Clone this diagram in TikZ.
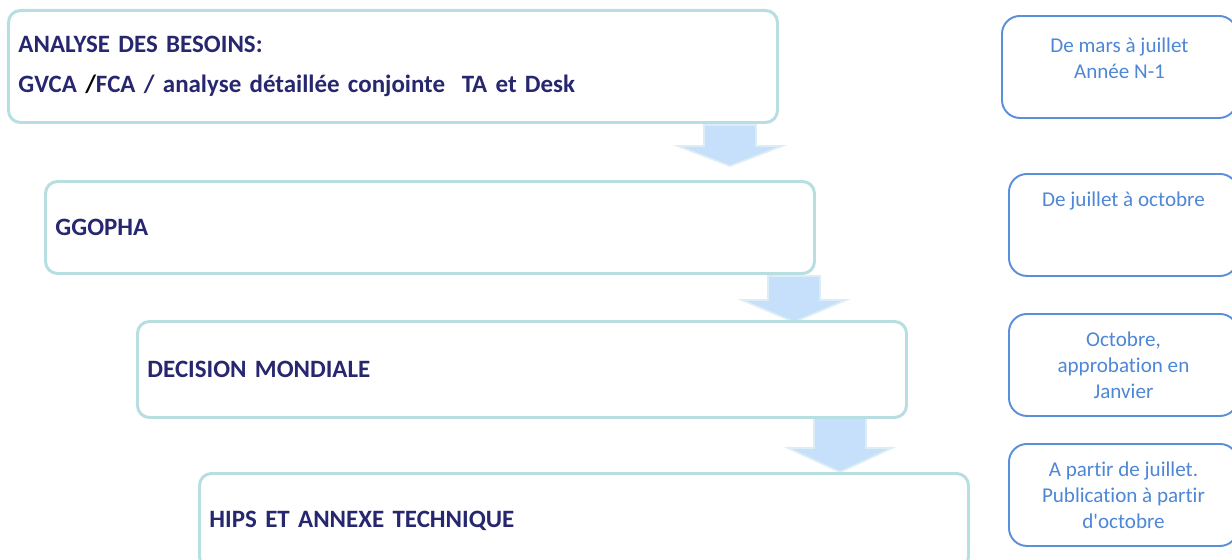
\documentclass[tikz,border=0pt]{standalone}
\usepackage{fontspec}
\setmainfont{Carlito}[Ligatures=NoCommon]
\usetikzlibrary{calc}
\definecolor{boxline}{HTML}{B7DEE0}
\definecolor{navytext}{HTML}{27276F}
\definecolor{dateline}{HTML}{5B8FD9}
\definecolor{datecol}{HTML}{4E87D6}
\definecolor{arrowfill}{HTML}{C6E0FB}
\definecolor{arrowline}{HTML}{DCEDF6}

\tikzset{
  stepbox/.style={draw=boxline, line width=1.7pt, rounded corners=0.24cm, fill=white,
    anchor=north west, text width=14.98cm, inner xsep=0.20cm, inner ysep=0pt, align=left,
    text=navytext, font=\fontsize{14.2}{17}\selectfont\bfseries},
  datebox/.style={draw=dateline, line width=1.1pt, rounded corners=0.36cm, fill=white,
    anchor=north west, minimum width=4.58cm, minimum height=2.04cm, inner sep=0pt, align=center,
    text=datecol, font=\fontsize{12}{14.7}\selectfont},
  downarrow/.style={fill=arrowfill, draw=arrowline, line width=1pt}
}
\newcommand{\blockarrow}[4]{%
  \filldraw[downarrow] (#1-0.52,#2) -- (#1+0.52,#2) -- (#1+0.52,#3) -- (#1+1.04,#3)
    -- (#1,#4) -- (#1-1.04,#3) -- (#1-0.52,#3) -- cycle;}

\begin{document}
\begin{tikzpicture}
    \useasboundingbox (0,0) rectangle (24.64,-11.2);

    \blockarrow{14.60}{-2.50}{-2.92}{-3.32}
    \blockarrow{15.88}{-5.52}{-6.00}{-6.44}
    \blockarrow{16.80}{-8.36}{-8.96}{-9.44}

    \node[stepbox, minimum height=2.24cm] (analyse) at (0.14,-0.18)
    {ANALYSE DES BESOINS:\\[5.7pt]GVCA {\color{black}/}FCA / analyse détaillée conjointe\ \ TA et Desk};
    \node[stepbox, minimum height=1.84cm] (ggopha) at (0.88,-3.60) {GGOPHA};
    \node[stepbox, minimum height=1.92cm] (decision) at (2.72,-6.40) {DECISION MONDIALE};
    \node[stepbox, minimum height=1.90cm] (hips) at (3.96,-9.44) {HIPS ET ANNEXE TECHNIQUE};

    \node[datebox, minimum width=4.70cm] (mars) at (20.02,-0.30)
    {De mars à juillet\\Année N-1\\[-4.5pt]\mbox{}};
    \node[datebox] (juillet) at (20.16,-3.46) {De juillet à octobre\\\mbox{}\\\mbox{}};
    \node[datebox] (octobre) at (20.16,-6.26) {Octobre,\\approbation en\\Janvier};
    \node[datebox] (publication) at (20.16,-8.86)
    {A partir de juillet.\\Publication à partir\\d\textquotesingle octobre};

\end{tikzpicture}
\end{document}
